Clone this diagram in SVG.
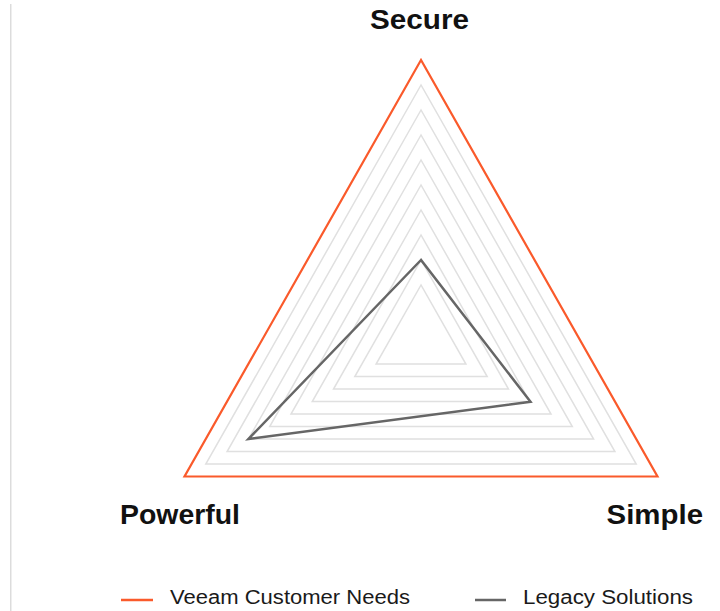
<svg xmlns="http://www.w3.org/2000/svg" width="720" height="611" viewBox="0 0 720 611">
  <style>
    .grid { fill: none; stroke: #e0e0e0; stroke-width: 1.5; stroke-linejoin: miter; }
    .needs { fill: none; stroke: #fa5a2b; stroke-width: 2.2; stroke-linejoin: miter; }
    .legacy { fill: none; stroke: #666666; stroke-width: 2.5; stroke-linejoin: miter; }
    .axis { font-family: "Liberation Sans", Arial, sans-serif; font-weight: bold; font-size: 28px; fill: #111111; }
    .legend { font-family: "Liberation Sans", Arial, sans-serif; font-size: 20px; fill: #1a1a1a; }
  </style>
  <rect width="720" height="611" fill="#ffffff"/>
  <line x1="10.8" y1="4" x2="10.8" y2="611" stroke="#d4d4d4" stroke-width="1.2"/>

  <g id="grid">
    <polygon class="grid" points="421,85 205.8,464.05 636.2,464.05"/>
    <polygon class="grid" points="421,110 227.1,451.55 614.9,451.55"/>
    <polygon class="grid" points="421,135 248.4,439.05 593.6,439.05"/>
    <polygon class="grid" points="421,160 269.7,426.55 572.3,426.55"/>
    <polygon class="grid" points="421,185 291,414.05 551,414.05"/>
    <polygon class="grid" points="421,210 312.25,401.55 529.75,401.55"/>
    <polygon class="grid" points="421,235 333.5,389.05 508.5,389.05"/>
    <polygon class="grid" points="421,260 354.8,376.55 487.2,376.55"/>
    <polygon class="grid" points="421,285 376.1,364.05 465.9,364.05"/>
  </g>

  <g id="series">
    <polygon id="veeam-needs" class="needs" points="421,60 184.5,476.5 657.5,476.5"/>
    <polygon id="legacy-solutions" class="legacy" points="421,260 248.4,439 530.5,401.8"/>
  </g>

  <g id="label-secure"><text class="axis" x="370" y="29" textLength="99" lengthAdjust="spacingAndGlyphs">Secure</text></g>
  <g id="label-powerful"><text class="axis" x="120" y="523.5" textLength="120" lengthAdjust="spacingAndGlyphs">Powerful</text></g>
  <g id="label-simple"><text class="axis" x="606.5" y="523.5" textLength="96.5" lengthAdjust="spacingAndGlyphs">Simple</text></g>

  <g id="legend">
    <g id="legend-needs">
      <line x1="121" y1="600" x2="153" y2="600" stroke="#fa5a2b" stroke-width="2.5"/>
      <text class="legend" x="170" y="604" textLength="240" lengthAdjust="spacingAndGlyphs">Veeam Customer Needs</text>
    </g>
    <g id="legend-legacy">
      <line x1="475" y1="600" x2="506" y2="600" stroke="#666666" stroke-width="2.5"/>
      <text class="legend" x="523" y="604" textLength="170" lengthAdjust="spacingAndGlyphs">Legacy Solutions</text>
    </g>
  </g>
</svg>
